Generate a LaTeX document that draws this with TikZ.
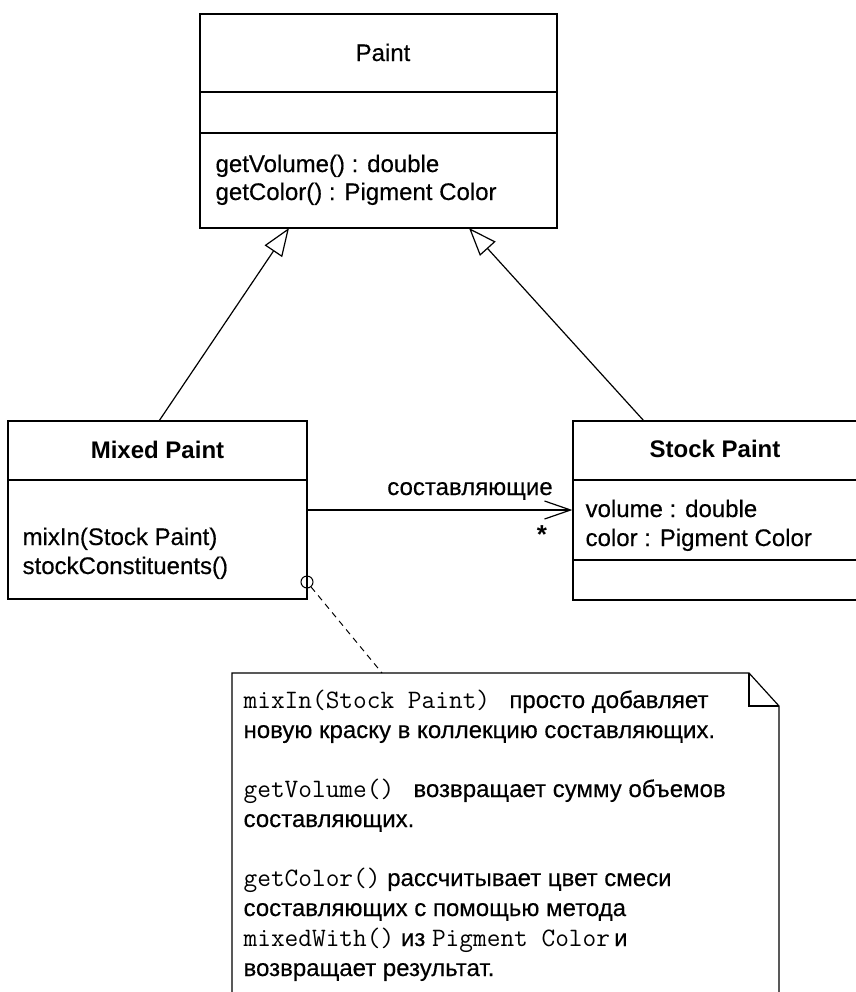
\documentclass[tikz,border=0pt]{standalone}
\usepackage{fontspec}
\setmainfont{Liberation Sans}[FakeBold=0.35,BoldFont={Liberation Sans Bold},BoldFeatures={FakeBold=0}]
\usetikzlibrary{arrows.meta}
\newcommand{\code}[1]{{\ttfamily\fontsize{13.3}{15}\selectfont #1}}
\begin{document}
\begin{tikzpicture}[x=0.5pt,y=-0.5pt,
  line width=0.6pt,
  box/.style={draw, rectangle, inner sep=0pt},
  txt/.style={inner sep=0pt, font=\fontsize{12}{15}\selectfont},
  ttl/.style={txt, anchor=base, font=\fontsize{12}{15}\selectfont\bfseries},
  mem/.style={txt, anchor=base west},
  gen/.style={-{Triangle[open,length=14pt,width=10.5pt]}},
  assoc/.style={-{Straight Barb[length=13pt,width=9pt]}},
  noteline/.style={dash pattern=on 3pt off 2.5pt, line width=0.5pt}]
\useasboundingbox (0,0) rectangle (856,992);

% ---------- Paint ----------
\node[box, minimum width=178.5pt, minimum height=107pt] (paint) at (378.5,121) {};
\draw (200,92) -- (557,92);
\draw (200,133) -- (557,133);
\node[txt, anchor=base] (paintT) at (383,61) {Paint};
\node[mem] (paintM1) at (215,172) {getVolume() : double};
\node[mem] (paintM2) at (215,200) {getColor() : Pigment Color};

% ---------- Mixed Paint ----------
\node[box, minimum width=149.5pt, minimum height=89pt] (mixed) at (157.5,510) {};
\draw (8,480) -- (307,480);
\node[ttl] (mixedT) at (157.5,458) {Mixed Paint};
\node[mem] (mixedM1) at (22,545) {mixIn(Stock Paint)};
\node[mem] (mixedM2) at (22,574) {stockConstituents()};

% ---------- Stock Paint ----------
\node[box, minimum width=150pt, minimum height=89.5pt] (stock) at (723,510.5) {};
\draw (573,480) -- (873,480);
\draw (573,560) -- (873,560);
\node[ttl] (stockT) at (715,457) {Stock Paint};
\node[mem] (stockA1) at (585,517) {volume : double};
\node[mem] (stockA2) at (585,546) {color : Pigment Color};

% ---------- generalizations ----------
\coordinate (g1s) at (159,421);
\coordinate (g1e) at (289,228);
\coordinate (g2s) at (644,421);
\coordinate (g2e) at (469,228);
\draw[gen] (g1s) -- (g1e);
\draw[gen] (g2s) -- (g2e);

% ---------- association ----------
\draw[assoc] (mixed.east) -- (mixed.east -| stock.west);
\node[txt, anchor=base] (assocL) at (470,495) {составляющие};
\node[txt, anchor=center, font=\fontsize{13}{15}\selectfont\bfseries] (mult) at (542,535) {*};

% ---------- note ----------
\node[draw, circle, inner sep=0pt, minimum size=6pt, line width=0.5pt] (anch) at (307,582) {};
\coordinate (noteTop) at (382,673);
\draw[noteline] (anch) -- (noteTop);
\draw (232,1000) -- (232,673) -- (749,673) -- (779,706) -- (779,1000);
\draw (749,673) -- (749,706) -- (779,706);

\node[mem] (n1) at (243,708) {\code{mixIn(Stock Paint)}\hspace{0.8em}просто добавляет};
\node[mem] (n2) at (243,738) {новую краску в коллекцию составляющих.};
\node[mem] (n3) at (243,797) {\code{getVolume()}\hspace{0.8em}возвращает сумму объемов};
\node[mem] (n4) at (243,827) {составляющих.};
\node[mem] (n5) at (243,886) {\code{getColor()} рассчитывает цвет смеси};
\node[mem] (n6) at (243,916) {составляющих с помощью метода};
\node[mem] (n7) at (243,946) {\code{mixedWith()} из \code{Pigment Color}\,и};
\node[mem] (n8) at (243,976) {возвращает результат.};
\end{tikzpicture}
\end{document}
